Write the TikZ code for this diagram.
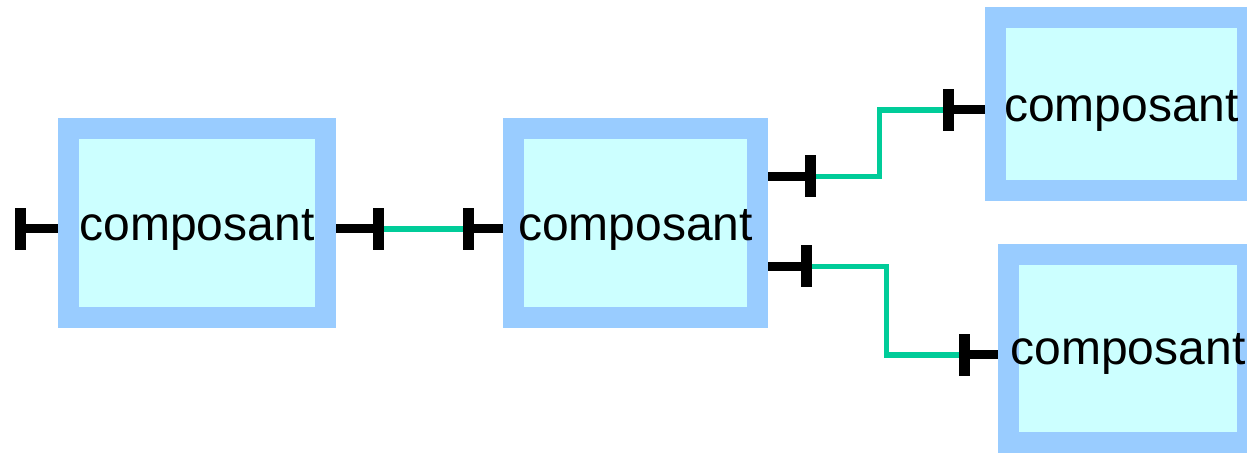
\documentclass[tikz,border=0pt]{standalone}
\usepackage{fontspec}
\setmainfont{Liberation Sans}
\definecolor{boxborder}{HTML}{99CCFF}
\definecolor{boxfill}{HTML}{CCFFFF}
\definecolor{wirecol}{HTML}{00CC99}
\tikzset{
  compbox/.style={draw=boxborder, fill=boxfill, line width=10.5pt, inner sep=0pt,
    font=\fontsize{24}{28}\selectfont, text height=20pt, text depth=2pt},
  portbar/.style={fill=black, draw=none, inner sep=0pt, minimum width=5.5pt, minimum height=21pt},
  stub/.style={draw=black, line width=4.5pt},
  wire/.style={draw=wirecol, line width=2.75pt}
}
\begin{document}
\begin{tikzpicture}[x=0.5pt,y=-0.5pt]
\useasboundingbox (0,0) rectangle (1247,453);
\clip (0,0) rectangle (1247,453);
% ports
\node[portbar] (p1) at (20.5,229) {};
\node[portbar] (p2) at (378.5,229) {};
\node[portbar] (p3) at (468.5,229) {};
\node[portbar] (p4) at (810.5,176.5) {};
\node[portbar] (p5) at (948.5,110) {};
\node[portbar] (p6) at (806.5,266.5) {};
\node[portbar] (p7) at (964.5,355) {};
% boxes
\node[compbox, minimum width=128.5pt, minimum height=94.5pt] (b1) at (197,223) {composant};
\node[compbox, minimum width=122pt, minimum height=94.5pt] (b2) at (635.5,223) {composant};
\node[compbox, minimum width=126pt, minimum height=86.5pt] (b3) at (1121.5,104) {composant};
\node[compbox, minimum width=119.5pt, minimum height=94pt, text height=18pt] (b4) at (1128,348.5) {composant};
% stubs
\draw[stub] (p1.center) -- (p1.center -| b1.west);
\draw[stub] (p2.center) -- (p2.center -| b1.east);
\draw[stub] (p3.center) -- (p3.center -| b2.west);
\draw[stub] (p4.center) -- (p4.center -| b2.east);
\draw[stub] (p5.center) -- (p5.center -| b3.west);
\draw[stub] (p6.center) -- (p6.center -| b2.east);
\draw[stub] (p7.center) -- (p7.center -| b4.west);
% wires
\draw[wire] (p2.east) -- (p3.west);
\draw[wire] (p4.east) -- ++(63,0) |- (p5.west);
\draw[wire] (p6.east) -- ++(74,0) |- (p7.west);
\end{tikzpicture}
\end{document}
